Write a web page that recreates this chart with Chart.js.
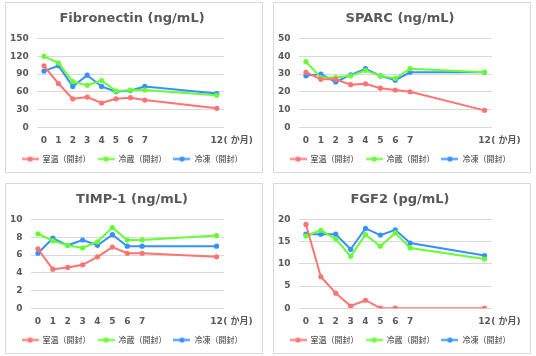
<!DOCTYPE html>
<html>
<head>
<meta charset="utf-8">
<script src="https://cdn.jsdelivr.net/npm/chart.js@4/dist/chart.umd.min.js"></script>
<style>
  html, body { margin: 0; padding: 0; background: #ffffff; }
  body { width: 536px; height: 356px; position: relative; overflow: hidden; }
  .panel { position: absolute; width: 258px; height: 171px; box-sizing: border-box;
           border: 1px solid #d9d9d9; background: #fff; }
  .panel canvas { position: absolute; left: 0; top: 0; }
</style>
</head>
<body>
<div class="panel" style="left:5px; top:2px;"><canvas id="c1" width="256" height="169"></canvas></div>
<div class="panel" style="left:273px; top:2px;"><canvas id="c2" width="256" height="169"></canvas></div>
<div class="panel" style="left:5px; top:183px;"><canvas id="c3" width="256" height="169"></canvas></div>
<div class="panel" style="left:273px; top:183px;"><canvas id="c4" width="256" height="169"></canvas></div>
<script>
// ---- data ----
const months = [0, 1, 2, 3, 4, 5, 6, 7, 12];
const seriesNames = ['室温（開封）', '冷蔵（開封）', '冷凍（開封）'];
const monthSuffix = '( か月)';

const fibronectinRoom   = [104, 74, 48, 51, 41, 48, 50, 46, 32];
const fibronectinFridge = [120, 109, 77, 71, 79, 61, 63, 63, 54];
const fibronectinFrozen = [95, 104, 69, 88, 69, 60, 62, 69, 57];

const sparcRoom   = [31, 27, 27, 24, 24.5, 22, 21, 20, 9.5];
const sparcFridge = [37, 28, 28, 29, 32, 29, 27.5, 33, 31];
const sparcFrozen = [29, 30, 25.5, 29.5, 33, 29, 26.5, 31, 31];

const timp1Room   = [6.7, 4.4, 4.6, 4.9, 5.8, 6.9, 6.2, 6.2, 5.8];
const timp1Fridge = [8.4, 7.6, 7.1, 6.8, 7.5, 9.1, 7.7, 7.7, 8.2];
const timp1Frozen = [6.2, 7.9, 7.1, 7.7, 7.1, 8.3, 7.0, 7.0, 7.0];

const fgf2Room   = [18.9, 7.1, 3.4, 0.5, 1.8, 0, 0, null, 0];
const fgf2Fridge = [16.3, 17.6, 15.6, 11.7, 16.6, 14.0, 17.0, 13.6, 11.1];
const fgf2Frozen = [16.7, 16.7, 16.7, 13.3, 18.0, 16.5, 17.7, 14.7, 11.9];

const titles = ['Fibronectin (ng/mL)', 'SPARC (ng/mL)', 'TIMP-1 (ng/mL)', 'FGF2 (pg/mL)'];
const yMaxes = [150, 50, 10, 20];
const ySteps = [30, 10, 2, 5];

// ---- styles ----
const colors = ['#FF7373', '#66FF33', '#3790FF'];
const textColor = '#595959';
const tickFont = { family: 'DejaVu Sans', size: 9, weight: 'bold' };
const xTickPadding = 8;

function legendImage(color) {
  const c = document.createElement('canvas');
  c.width = 17; c.height = 7;
  const g = c.getContext('2d');
  g.strokeStyle = color; g.lineWidth = 2;
  g.beginPath(); g.moveTo(0, 3.5); g.lineTo(17, 3.5); g.stroke();
  g.fillStyle = color;
  g.beginPath(); g.arc(8.5, 3.5, 2.6, 0, Math.PI * 2); g.fill();
  return c;
}
const legendImages = colors.map(legendImage);

const suffixPlugin = {
  id: 'suffix',
  afterDraw(chart) {
    const xs = chart.scales.x;
    const ctx = chart.ctx;
    const last = months[months.length - 1];
    const px = xs.getPixelForValue(last);
    ctx.save();
    ctx.font = 'bold ' + tickFont.size + 'px "' + tickFont.family + '"';
    const w = ctx.measureText(String(last)).width;
    const y = xs.top + xTickPadding + tickFont.size * 1.2 / 2;
    ctx.fillStyle = textColor;
    ctx.textAlign = 'left';
    ctx.textBaseline = 'middle';
    ctx.font = 'bold ' + tickFont.size + 'px "DejaVu Sans", "Noto Sans CJK JP"';
    ctx.fillText(monthSuffix, px + w / 2 + 0.5, y);
    ctx.restore();
  }
};

function makeChart(id, title, series, yMax, yStep) {
  new Chart(document.getElementById(id), {
    type: 'line',
    data: {
      datasets: series.map((vals, i) => ({
        label: seriesNames[i],
        data: months.map((m, j) => ({ x: m, y: vals[j] })),
        borderColor: colors[i],
        backgroundColor: colors[i],
        borderWidth: 2,
        pointRadius: 2.6,
        pointBorderWidth: 0,
        pointHoverRadius: 2.6,
        spanGaps: true,
        tension: 0
      }))
    },
    options: {
      responsive: false,
      animation: false,
      events: [],
      layout: { padding: { left: 0, right: 4, top: 0, bottom: -1 } },
      scales: {
        x: {
          type: 'linear', min: -0.5, max: 12.5,
          afterBuildTicks(axis) { axis.ticks = months.map(v => ({ value: v })); },
          afterFit(scale) { scale.height -= 6; },
          ticks: { font: tickFont, color: textColor, padding: xTickPadding, maxRotation: 0, autoSkip: false,
                   callback: v => String(v) },
          grid: { display: false, drawTicks: false },
          border: { display: false }
        },
        y: {
          min: 0, max: yMax,
          afterBuildTicks(axis) {
            const t = [];
            for (let v = 0; v <= yMax + 1e-9; v += yStep) t.push({ value: v });
            axis.ticks = t;
          },
          afterFit(scale) { scale.width -= 4; },
          ticks: { font: tickFont, color: textColor, padding: 8, autoSkip: false },
          grid: { color: '#d9d9d9', lineWidth: 1, drawTicks: false },
          border: { display: false }
        },
        ySpace: {
          position: 'right', display: true,
          ticks: { display: false }, grid: { display: false, drawTicks: false }, border: { display: false },
          afterFit(scale) { scale.width = 34; }
        }
      },
      plugins: {
        title: { display: true, text: title, color: textColor,
                 font: { family: 'DejaVu Sans', size: 13, weight: 'bold' },
                 padding: { top: 8, bottom: 12 } },
        legend: {
          position: 'bottom',
          labels: {
            usePointStyle: true, pointStyleWidth: 17, boxHeight: 7,
            color: textColor, padding: 7,
            font: { family: 'Noto Sans CJK JP', size: 8, weight: '500' },
            generateLabels(chart) {
              return chart.data.datasets.map((ds, i) => ({
                text: ds.label, pointStyle: legendImages[i], fillStyle: colors[i],
                strokeStyle: colors[i], lineWidth: 0, hidden: false, datasetIndex: i,
                fontColor: textColor
              }));
            }
          }
        },
        tooltip: { enabled: false }
      }
    },
    plugins: [suffixPlugin]
  });
}

makeChart('c1', titles[0], [fibronectinRoom, fibronectinFridge, fibronectinFrozen], yMaxes[0], ySteps[0]);
makeChart('c2', titles[1], [sparcRoom, sparcFridge, sparcFrozen], yMaxes[1], ySteps[1]);
makeChart('c3', titles[2], [timp1Room, timp1Fridge, timp1Frozen], yMaxes[2], ySteps[2]);
makeChart('c4', titles[3], [fgf2Room, fgf2Fridge, fgf2Frozen], yMaxes[3], ySteps[3]);
</script>
</body>
</html>
